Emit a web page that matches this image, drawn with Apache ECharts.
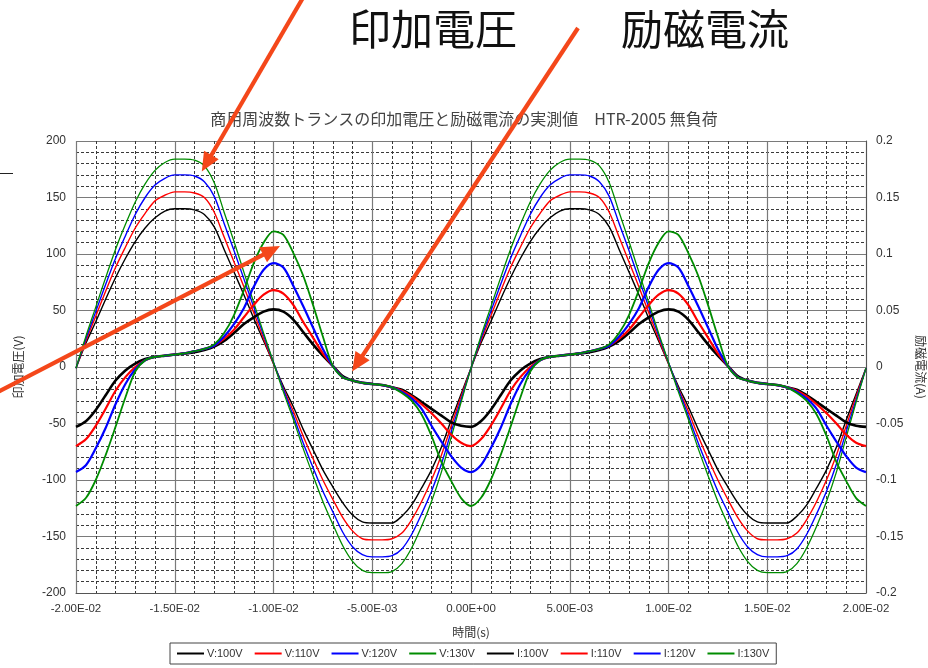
<!DOCTYPE html>
<html lang="ja">
<head>
<meta charset="utf-8">
<title>商用周波数トランスの印加電圧と励磁電流の実測値</title>
<script src="https://cdn.jsdelivr.net/npm/echarts@6/dist/echarts.min.js"></script>
<style>
  html, body { margin: 0; padding: 0; background: #fff; }
  #chart { width: 928px; height: 668px; }
</style>
</head>
<body>
<div id="chart"></div>
<script>
// Sample times (ms), one sample every 0.5 ms over two mains cycles
const timeMs = [-20,-19.5,-19,-18.5,-18,-17.5,-17,-16.5,-16,-15.5,-15,-14.5,-14,-13.5,-13,-12.5,-12,-11.5,-11,-10.5,-10,-9.5,-9,-8.5,-8,-7.5,-7,-6.5,-6,-5.5,-5,-4.5,-4,-3.5,-3,-2.5,-2,-1.5,-1,-0.5,0,0.5,1,1.5,2,2.5,3,3.5,4,4.5,5,5.5,6,6.5,7,7.5,8,8.5,9,9.5,10,10.5,11,11.5,12,12.5,13,13.5,14,14.5,15,15.5,16,16.5,17,17.5,18,18.5,19,19.5,20];

// Applied voltage (V)
const v100 = [-1,21,40,60,79,96,111,123,132,138,140,140,139,135,124,104,84,64,43,23,3,-17,-35,-55,-73,-91,-106,-120,-131,-137,-138,-138,-138,-132,-122,-107,-91,-71,-47,-24,-1,21,40,60,79,96,111,123,132,138,140,140,139,135,124,104,84,64,43,23,3,-17,-35,-55,-73,-91,-106,-120,-131,-137,-138,-138,-138,-132,-122,-107,-91,-71,-47,-24,-1];
const v110 = [-1,23,45,67,88,106,123,136,147,152,155,155,154,150,137,115,93,71,48,25,3,-19,-39,-61,-81,-100,-117,-133,-145,-152,-153,-153,-152,-147,-135,-119,-100,-78,-52,-26,-1,23,45,67,88,106,123,136,147,152,155,155,154,150,137,115,93,71,48,25,3,-19,-39,-61,-81,-100,-117,-133,-145,-152,-153,-153,-152,-147,-135,-119,-100,-78,-52,-26,-1];
const v120 = [-1,25,49,73,96,116,135,150,161,167,170,170,169,164,151,127,103,78,53,28,4,-20,-43,-67,-89,-110,-128,-146,-159,-166,-168,-168,-167,-161,-148,-130,-110,-86,-57,-29,-1,25,49,73,96,116,135,150,161,167,170,170,169,164,151,127,103,78,53,28,4,-20,-43,-67,-89,-110,-128,-146,-159,-166,-168,-168,-167,-161,-148,-130,-110,-86,-57,-29,-1];
const v130 = [-1,27,53,79,104,126,146,162,174,181,184,184,183,178,163,137,111,84,57,30,4,-22,-46,-72,-96,-119,-139,-158,-172,-180,-182,-182,-181,-174,-160,-141,-119,-93,-62,-31,-1,27,53,79,104,126,146,162,174,181,184,184,183,178,163,137,111,84,57,30,4,-22,-46,-72,-96,-119,-139,-158,-172,-180,-182,-182,-181,-174,-160,-141,-119,-93,-62,-31,-1];

// Magnetizing current (mA)
const i100 = [-53,-48,-38,-25,-12,-3,3,7,9,10,11,12,13,15,18,23,30,38,44,49,51,49,42,31,20,10,1,-8,-12,-14,-15,-16,-18,-20,-25,-31,-37,-43,-49,-52,-53,-48,-38,-25,-12,-3,3,7,9,10,11,12,13,15,18,23,30,38,44,49,51,49,42,31,20,10,1,-8,-12,-14,-15,-16,-18,-20,-25,-31,-37,-43,-49,-52,-53];
const i110 = [-70,-64,-52,-37,-21,-9,0,6,9,10,11,12,14,16,19,25,33,44,55,64,68,65,55,40,26,12,1,-9,-12,-14,-15,-16,-18,-21,-26,-33,-41,-50,-60,-67,-70,-64,-52,-37,-21,-9,0,6,9,10,11,12,14,16,19,25,33,44,55,64,68,65,55,40,26,12,1,-9,-12,-14,-15,-16,-18,-21,-26,-33,-41,-50,-60,-67,-70];
const i120 = [-93,-87,-72,-54,-33,-15,-2,6,9,10,11,12,14,16,19,27,38,52,71,86,92,88,72,54,35,16,1,-9,-12,-14,-15,-16,-18,-22,-28,-37,-52,-66,-79,-89,-93,-87,-72,-54,-33,-15,-2,6,9,10,11,12,14,16,19,27,38,52,71,86,92,88,72,54,35,16,1,-9,-12,-14,-15,-16,-18,-22,-28,-37,-52,-66,-79,-89,-93];
const i130 = [-123,-116,-100,-78,-53,-27,-4,6,9,10,11,12,14,16,20,30,46,68,92,110,120,117,101,81,55,27,1,-9,-12,-14,-15,-16,-18,-23,-30,-42,-61,-84,-101,-116,-123,-116,-100,-78,-53,-27,-4,6,9,10,11,12,14,16,20,30,46,68,92,110,120,117,101,81,55,27,1,-9,-12,-14,-15,-16,-18,-23,-30,-42,-61,-84,-101,-116,-123];

const seriesNames = ['V:100V','V:110V','V:120V','V:130V','I:100V','I:110V','I:120V','I:130V'];
const seriesColors = ['#000000','#ff0000','#0000ff','#008c00','#000000','#ff0000','#0000ff','#008c00'];

const calloutColor = '#f4471a';
const tickFont = '"Liberation Sans", Arial, sans-serif';
const jpFont = '"Noto Sans CJK JP", sans-serif';

function sciLabel(v) {
  const parts = Number(v).toExponential(2).split('e');
  const n = parseInt(parts[1], 10);
  return parts[0] + 'E' + (n < 0 ? '-' : '+') + String(Math.abs(n)).padStart(2, '0');
}

function toPairs(values, scale) {
  return timeMs.map((t, k) => [t / 1000, values[k] * scale]);
}

function lineSeries(idx, values, axis, width) {
  return {
    name: seriesNames[idx],
    type: 'line',
    yAxisIndex: axis,
    data: toPairs(values, axis === 0 ? 1 : 0.001),
    showSymbol: false,
    symbol: 'none',
    smooth: 0.3,
    color: seriesColors[idx],
    lineStyle: { width: width, color: seriesColors[idx] },
    animation: false
  };
}

const chart = echarts.init(document.getElementById('chart'), null, { renderer: 'canvas' });

const gridLineMinor = { show: true, lineStyle: { color: '#3a3a3a', width: 1, type: [3, 2] } };
const gridLineMajor = { show: true, lineStyle: { color: '#7a7a7a', width: 1.2, type: 'solid' } };

chart.setOption({
  backgroundColor: '#ffffff',
  animation: false,
  title: {
    text: '商用周波数トランスの印加電圧と励磁電流の実測値　HTR-2005 無負荷',
    left: 'center',
    top: 106,
    textStyle: { fontFamily: jpFont, fontSize: 16, fontWeight: 'normal', color: '#444' }
  },
  grid: { left: 76, right: 62, top: 141, bottom: 75, outerBoundsMode: 'none', containLabel: false },
  legend: {
    data: seriesNames,
    left: 170,
    top: 643,
    padding: [5, 7],
    itemGap: 12,
    itemWidth: 27,
    itemHeight: 2,
    icon: 'rect',
    borderColor: '#444',
    borderWidth: 1,
    textStyle: { fontFamily: tickFont, fontSize: 11, color: '#333', padding: [0, 0, 0, -2] }
  },
  xAxis: {
    type: 'value',
    min: -0.02,
    max: 0.02,
    interval: 0.005,
    name: '時間(s)',
    nameLocation: 'middle',
    nameGap: 33,
    nameTextStyle: { fontFamily: jpFont, fontSize: 12, color: '#333' },
    axisLine: { show: true, onZero: false, lineStyle: { color: '#555', width: 1 } },
    axisTick: { show: false },
    axisLabel: { formatter: sciLabel, fontFamily: tickFont, fontSize: 11.5, color: '#333', margin: 10 },
    splitLine: gridLineMajor,
    minorTick: { show: false, splitNumber: 5 },
    minorSplitLine: gridLineMinor
  },
  yAxis: [
    {
      type: 'value',
      min: -200,
      max: 200,
      interval: 50,
      name: '印加電圧(V)',
      nameLocation: 'middle',
      nameGap: 52,
      nameRotate: 90,
      nameTextStyle: { fontFamily: jpFont, fontSize: 12, color: '#333' },
      axisLine: { show: true, lineStyle: { color: '#555', width: 1 } },
      axisTick: { show: false },
      axisLabel: { fontFamily: tickFont, fontSize: 12, color: '#333', margin: 10 },
      splitLine: gridLineMajor,
      minorTick: { show: false, splitNumber: 5 },
      minorSplitLine: gridLineMinor
    },
    {
      type: 'value',
      min: -0.2,
      max: 0.2,
      interval: 0.05,
      position: 'right',
      name: '励磁電流(A)',
      nameLocation: 'middle',
      nameGap: 40,
      nameRotate: -90,
      nameTextStyle: { fontFamily: jpFont, fontSize: 12, color: '#333' },
      axisLine: { show: true, lineStyle: { color: '#555', width: 1 } },
      axisTick: { show: false },
      axisLabel: { fontFamily: tickFont, fontSize: 12, color: '#333', margin: 10 },
      splitLine: { show: false }
    }
  ],
  series: [
    lineSeries(0, v100, 0, 1.4),
    lineSeries(1, v110, 0, 1.4),
    lineSeries(2, v120, 0, 1.4),
    lineSeries(3, v130, 0, 1.3),
    lineSeries(4, i100, 1, 2.6),
    lineSeries(5, i110, 1, 2.2),
    lineSeries(6, i120, 1, 2.2),
    lineSeries(7, i130, 1, 1.8)
  ]
});

// Callout arrows: tails sit in the page margin, heads point at positions on the plot (time s, voltage V)
const arrowTails = [[304, -4], [578, 28], [-6, 394]];
const arrowTips = [[-0.01363, 173], [-0.00602, -4], [-0.00967, 107]];

function arrowShapes(tail, tip) {
  const dx = tip[0] - tail[0], dy = tip[1] - tail[1];
  const len = Math.hypot(dx, dy);
  const ux = dx / len, uy = dy / len;
  const headLen = 19, headHalf = 8.5;
  const bx = tip[0] - ux * headLen, by = tip[1] - uy * headLen;
  return [
    {
      type: 'line', z: 100, silent: true,
      shape: { x1: tail[0], y1: tail[1], x2: bx + ux * 3, y2: by + uy * 3 },
      style: { stroke: calloutColor, lineWidth: 4.2 }
    },
    {
      type: 'polygon', z: 100, silent: true,
      shape: { points: [[tip[0], tip[1]], [bx - uy * headHalf, by + ux * headHalf], [bx + uy * headHalf, by - ux * headHalf]] },
      style: { fill: calloutColor }
    }
  ];
}

const graphics = [
  { type: 'text', left: 349, top: 8, z: 100, style: { text: '印加電圧', font: '42px "Noto Sans CJK JP"', fill: '#111' } },
  { type: 'text', left: 621, top: 8, z: 100, style: { text: '励磁電流', font: '42px "Noto Sans CJK JP"', fill: '#111' } },
  { type: 'line', z: 100, shape: { x1: 0, y1: 173.5, x2: 13, y2: 173.5 }, style: { stroke: '#222', lineWidth: 1 } }
];
arrowTips.forEach((tip, k) => {
  const p = chart.convertToPixel({ xAxisIndex: 0, yAxisIndex: 0 }, tip);
  arrowShapes(arrowTails[k], p).forEach(g => graphics.push(g));
});
chart.setOption({ graphic: graphics });
</script>
</body>
</html>
